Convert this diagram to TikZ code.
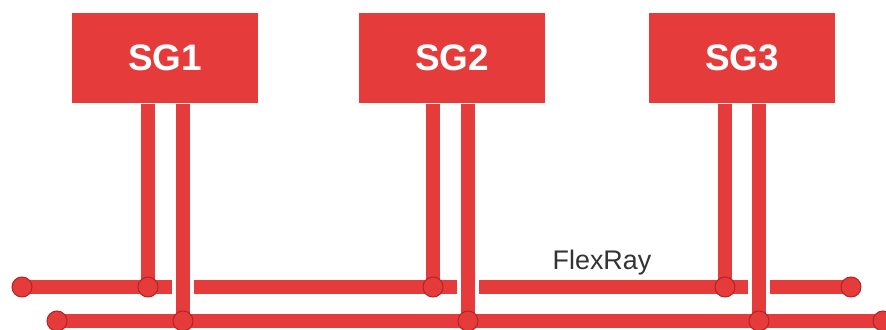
\documentclass[tikz,border=0pt]{standalone}
\usepackage{fontspec}
\setmainfont{Liberation Sans}
\usetikzlibrary{backgrounds}
\definecolor{busred}{HTML}{E53B3B}
\definecolor{tapedge}{HTML}{B82424}

\begin{document}
\begin{tikzpicture}[x=0.02cm, y=-0.02cm,
    ecu/.style={fill=busred, minimum width=3.72cm, minimum height=1.82cm,
        text=white, font=\bfseries\fontsize{21}{21}\selectfont},
    tap/.style={circle, fill=busred, draw=tapedge, line width=0.6pt,
        inner sep=0pt, minimum size=0.4cm},
    bus/.style={busred, line width=0.28cm},
    cross/.style={bus, preaction={draw=white, line width=0.44cm}}]
\useasboundingbox (0,0) rectangle (886,329);
\node[ecu] at(165, 58)(sg1){SG1};
\node[ecu] at(452, 58)(sg2){SG2};
\node[ecu] at(742, 58)(sg3){SG3};
\node[tap] at(22, 287)(u0){};
\node[tap] at(148, 287)(u1){};
\node[tap] at(433, 287)(u2){};
\node[tap] at(725, 287)(u3){};
\node[tap] at(851, 287)(u4){};
\node[tap] at(57, 321)(l0){};
\node[tap] at(183, 321)(l1){};
\node[tap] at(468, 321)(l2){};
\node[tap] at(759, 321)(l3){};
\node[tap] at(883, 321)(l4){};
\node[text=black!80, font=\fontsize{15.3}{15.3}\selectfont] at(602, 263)(fr){FlexRay};
\begin{scope}[on background layer]
\draw[bus] (u0.center) -- (u4.center);
\draw[bus] (sg1.south -| u1) -- (u1.center)
    (sg2.south -| u2) -- (u2.center)
    (sg3.south -| u3) -- (u3.center);
\draw[cross] (sg1.south -| l1) -- (l1.center);
\draw[cross] (sg2.south -| l2) -- (l2.center);
\draw[cross] (sg3.south -| l3) -- (l3.center);
\draw[bus] (l0.center) -- (l4.center);
\end{scope}
\end{tikzpicture}
\end{document}
